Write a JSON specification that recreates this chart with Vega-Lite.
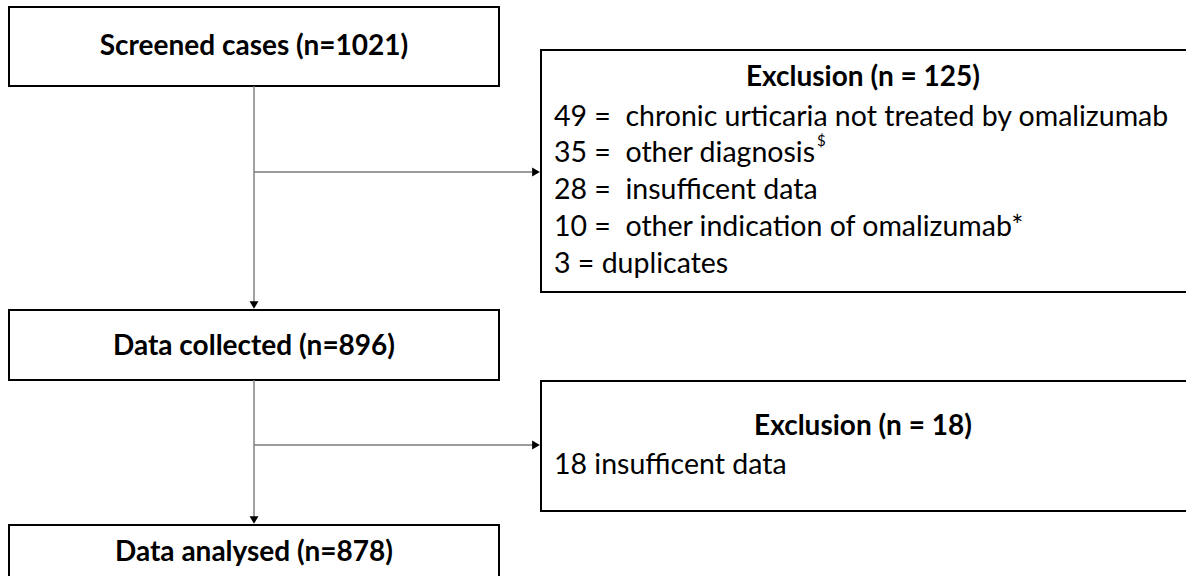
{
  "$schema": "https://vega.github.io/schema/vega-lite/v6.json",
  "width": 1186,
  "height": 576,
  "autosize": {"type": "fit", "contains": "padding"},
  "padding": 0,
  "background": "white",
  "config": {"view": {"stroke": null}},
  "datasets": {
    "boxes": [
      {"box": "screened", "x1": 9, "x2": 499, "y1": 7, "y2": 86},
      {"box": "exclusion1", "x1": 541, "x2": 1192, "y1": 50, "y2": 292},
      {"box": "collected", "x1": 9, "x2": 499, "y1": 310, "y2": 380},
      {"box": "exclusion2", "x1": 541, "x2": 1192, "y1": 381, "y2": 511},
      {"box": "analysed", "x1": 9, "x2": 499, "y1": 525, "y2": 600}
    ],
    "links": [
      {"x1": 254, "y1": 86, "x2": 254, "y2": 304},
      {"x1": 254, "y1": 172, "x2": 534, "y2": 172},
      {"x1": 254, "y1": 380, "x2": 254, "y2": 519},
      {"x1": 254, "y1": 445, "x2": 534, "y2": 445}
    ],
    "arrows": [
      {"x": 254, "y": 305, "shape": "triangle-down"},
      {"x": 536, "y": 172, "shape": "triangle-right"},
      {"x": 254, "y": 520, "shape": "triangle-down"},
      {"x": 536, "y": 445, "shape": "triangle-right"}
    ],
    "titles": [
      {"label": "Screened cases (n=1021)", "x": 254, "y": 47},
      {"label": "Exclusion (n = 125)", "x": 863, "y": 78},
      {"label": "Data collected (n=896)", "x": 254, "y": 347},
      {"label": "Exclusion (n = 18)", "x": 863, "y": 427},
      {"label": "Data analysed (n=878)", "x": 254, "y": 553}
    ],
    "lines": [
      {"label": "49 =\u00a0 chronic urticaria not treated by omalizumab", "x": 554, "y": 117},
      {"label": "35 =\u00a0 other diagnosis", "x": 554, "y": 153},
      {"label": "28 =\u00a0 insufficent data", "x": 554, "y": 190},
      {"label": "10 =\u00a0 other indication of omalizumab*", "x": 554, "y": 227},
      {"label": "3 = duplicates", "x": 554, "y": 264},
      {"label": "18 insufficent data", "x": 554, "y": 465}
    ],
    "sups": [
      {"label": "$", "x": 817, "y": 141}
    ]
  },
  "layer": [
    {
      "data": {"name": "boxes"},
      "mark": {"type": "rect", "fill": "white", "stroke": "black", "strokeWidth": 2, "clip": true},
      "encoding": {
        "x": {"field": "x1", "type": "quantitative", "scale": {"domain": [0, 1186], "nice": false, "zero": false}, "axis": null},
        "x2": {"field": "x2"},
        "y": {"field": "y1", "type": "quantitative", "scale": {"domain": [0, 576], "nice": false, "zero": false, "reverse": true}, "axis": null},
        "y2": {"field": "y2"}
      }
    },
    {
      "data": {"name": "links"},
      "mark": {"type": "rule", "color": "#7a7a7a", "strokeWidth": 1.4},
      "encoding": {
        "x": {"field": "x1", "type": "quantitative", "scale": {"domain": [0, 1186], "nice": false, "zero": false}, "axis": null},
        "x2": {"field": "x2"},
        "y": {"field": "y1", "type": "quantitative", "scale": {"domain": [0, 576], "nice": false, "zero": false, "reverse": true}, "axis": null},
        "y2": {"field": "y2"}
      }
    },
    {
      "data": {"name": "arrows"},
      "mark": {"type": "point", "filled": true, "color": "black", "opacity": 1, "size": 80},
      "encoding": {
        "x": {"field": "x", "type": "quantitative", "scale": {"domain": [0, 1186], "nice": false, "zero": false}, "axis": null},
        "y": {"field": "y", "type": "quantitative", "scale": {"domain": [0, 576], "nice": false, "zero": false, "reverse": true}, "axis": null},
        "shape": {"field": "shape", "type": "nominal", "scale": null, "legend": null}
      }
    },
    {
      "data": {"name": "titles"},
      "mark": {"type": "text", "font": "Lato", "fontWeight": "bold", "fontSize": 28, "align": "center", "baseline": "middle", "color": "black"},
      "encoding": {
        "x": {"field": "x", "type": "quantitative", "scale": {"domain": [0, 1186], "nice": false, "zero": false}, "axis": null},
        "y": {"field": "y", "type": "quantitative", "scale": {"domain": [0, 576], "nice": false, "zero": false, "reverse": true}, "axis": null},
        "text": {"field": "label", "type": "nominal"}
      }
    },
    {
      "data": {"name": "lines"},
      "mark": {"type": "text", "font": "Lato", "fontSize": 28.5, "align": "left", "baseline": "middle", "color": "black"},
      "encoding": {
        "x": {"field": "x", "type": "quantitative", "scale": {"domain": [0, 1186], "nice": false, "zero": false}, "axis": null},
        "y": {"field": "y", "type": "quantitative", "scale": {"domain": [0, 576], "nice": false, "zero": false, "reverse": true}, "axis": null},
        "text": {"field": "label", "type": "nominal"}
      }
    },
    {
      "data": {"name": "sups"},
      "mark": {"type": "text", "font": "Lato", "fontSize": 15, "align": "left", "baseline": "middle", "color": "black"},
      "encoding": {
        "x": {"field": "x", "type": "quantitative", "scale": {"domain": [0, 1186], "nice": false, "zero": false}, "axis": null},
        "y": {"field": "y", "type": "quantitative", "scale": {"domain": [0, 576], "nice": false, "zero": false, "reverse": true}, "axis": null},
        "text": {"field": "label", "type": "nominal"}
      }
    }
  ]
}
